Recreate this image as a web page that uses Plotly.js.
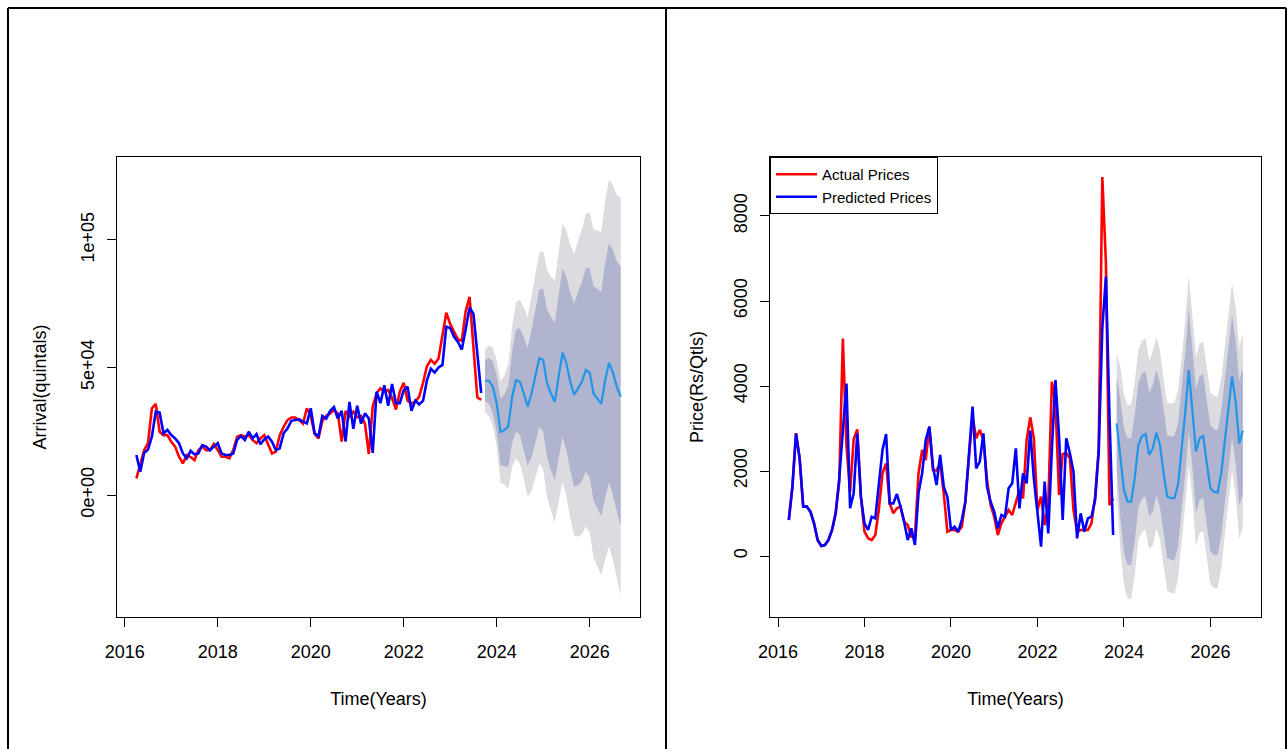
<!DOCTYPE html>
<html>
<head>
<meta charset="utf-8">
<script src="https://cdn.plot.ly/plotly-3.0.1.min.js"></script>
<style>
    html, body { margin: 0; padding: 0; background: #ffffff; }
    #chart { width: 1288px; height: 749px; }
</style>
</head>
<body>
<div id="chart"></div>
<script>
// ---- Arrivals (quintals), monthly series starting Apr 2016 ----
const arrivalStart = 2016.25;
const arrivalActual = [
    6500, 12500, 17600, 20300, 34000, 35700, 24800, 23500, 23500, 20900,
    19000, 15000, 12400, 15700, 14900, 13700, 17600, 19000, 17600, 17600,
    20000, 17600, 15000, 15000, 14400, 17600, 22900, 23500, 22900, 23500,
    21600, 20300, 22200, 23500, 19600, 16300, 17000, 23500, 26700, 29400,
    30400, 30400, 29400, 28000, 34000, 31000, 24000, 22200, 29000, 31000,
    32000, 33300, 32000, 21000, 33000, 30700, 32700, 30500, 31000, 28000,
    16100, 34600, 40000, 41800, 40500, 41200, 38000, 33500, 40500, 44000,
    37000, 35900, 36600, 38600, 44000, 50500, 53000, 51500, 53500, 63000,
    71500, 67000, 64000, 61000, 60500, 72000, 77700, 58000, 38300, 37300
];
const arrivalFitted = [
    15700, 9100, 16500, 17800, 22900, 32700, 32300, 24200, 25500, 23500,
    22200, 20300, 16300, 14400, 17300, 16000, 16300, 19600, 19000, 17600,
    19000, 20300, 16300, 15700, 15700, 16300, 21600, 23100, 21600, 24800,
    22200, 23900, 19900, 21800, 22900, 20900, 17600, 18300, 24200, 26100,
    29100, 29400, 29700, 28800, 28100, 34000, 24200, 23000, 31000, 30000,
    33000, 34500, 30000, 33000, 21000, 36500, 26000, 35000, 28000, 32000,
    30000, 16500, 40500, 36000, 43000, 35000, 43500, 36000, 36000, 41000,
    42500, 33000, 37000, 35500, 37000, 45000, 49500, 48000, 50000, 51000,
    66000, 65500, 62000, 60000, 57000, 65000, 73500, 71000, 55000, 40000
];
const arrivalFcStart = 2023.75;
const arrivalMean = [
    44800, 44800, 42500, 36000, 24800, 25500, 27000, 38500, 45000, 44400, 39800, 34600,
    39800, 46400, 53600, 52900, 43800, 39800, 36600, 46400, 55800, 51600, 44400, 39200,
    41800, 44400, 49000, 48000, 39800, 37900, 35700, 45000, 51800, 48000, 42500, 38600
];
const arrivalHi80 = [
    52800, 53800, 52500, 47000, 37800, 39500, 43000, 56500, 65000, 65400, 61800, 57600,
    64800, 72400, 80600, 80900, 72800, 69800, 67600, 78400, 88800, 85600, 79400, 75200,
    79800, 83400, 89000, 89000, 81800, 80900, 79700, 91000, 98800, 96000, 91500, 89600
];
const arrivalLo80 = [
    36800, 35800, 32500, 25000, 11800, 11500, 11000, 20500, 25000, 23400, 17800, 11600,
    14800, 20400, 26600, 24900, 14800, 9800, 5600, 14400, 22800, 17600, 9400, 3200,
    3800, 5400, 9000, 7000, -2200, -5100, -8300, -1000, 4800, 0, -6500, -12400
];
const arrivalHi95 = [
    57000, 58600, 57800, 52800, 44700, 46900, 51500, 66000, 75600, 76500, 73500, 69800,
    78100, 86200, 94900, 95700, 88200, 85700, 84000, 95400, 106300, 103600, 98000, 94300,
    99900, 104100, 110200, 110700, 104100, 103700, 103000, 115400, 123700, 121400, 117500, 116600
];
const arrivalLo95 = [
    32600, 31000, 27200, 19200, 4900, 4100, 2500, 11000, 14400, 12300, 6100, -600,
    1500, 6600, 12300, 10100, -600, -6100, -10800, -2600, 5300, -400, -9200, -15900,
    -16300, -15300, -12200, -14700, -24500, -27900, -31600, -25400, -20100, -25400, -32500, -39400
];

// ---- Prices (Rs/Qtls), monthly series starting Apr 2016 ----
const priceStart = 2016.25;
const priceActual = [
    847, 1631, 2886, 2298, 1161, 1161, 1043, 769, 376, 235,
    259, 376, 612, 1004, 1750, 5114, 2600, 1500, 2745, 2980,
    1396, 572, 420, 376, 494, 1100, 1950, 2180, 1239, 1004,
    1122, 1161, 808, 729, 455, 455, 1953, 2494, 2259, 3043,
    2023, 2008, 2180, 1475, 572, 612, 612, 573, 690, 1278,
    2337, 3278, 2769, 2965, 2729, 1788, 1200, 925, 494, 769,
    925, 1082, 965, 1239, 1553, 1357, 2729, 3263, 2769, 1082,
    1396, 729, 1200, 4102, 3592, 1435, 2400, 2420, 2300, 1082,
    572, 612, 612, 612, 769, 1396, 2500, 8918, 6900, 1200,
    1357
];
const priceFitted = [
    847, 1631, 2886, 2298, 1161, 1161, 1043, 769, 376, 235,
    259, 376, 612, 1004, 1827, 2900, 4059, 1122, 1475, 2886,
    1396, 769, 612, 925, 886, 1700, 2494, 2870, 1239, 1239,
    1458, 1161, 808, 376, 651, 259, 1486, 1945, 2729, 3043,
    2102, 1671, 2376, 1631, 1396, 612, 690, 573, 847, 1278,
    2337, 3514, 2063, 2220, 2886, 1631, 1278, 1043, 651, 965,
    925, 1592, 1710, 2533, 1122, 1945, 1710, 2949, 1827, 1082,
    220, 1749, 533, 2500, 4141, 2808, 847, 2769, 2416, 1984,
    416, 1004, 573, 886, 925, 1318, 2455, 5357, 6573, 3278,
    494
];
const priceFcStart = 2023.8333;
const priceMean = [
    3120, 2300, 1550, 1280, 1280, 1830, 2610, 2820, 2870, 2380, 2530, 2900,
    2610, 1950, 1400, 1360, 1360, 1670, 2450, 3360, 4380, 3510, 2460, 2770,
    2820, 2180, 1590, 1510, 1490, 1950, 2690, 3510, 4220, 3630, 2650, 2950
];
const priceHi80 = [
    4200, 3700, 3010, 2770, 2770, 3320, 4070, 4290, 4340, 3830, 4020, 4370,
    4070, 3390, 2850, 2810, 2830, 3120, 3880, 4770, 5830, 4930, 3910, 4230,
    4280, 3650, 3070, 2990, 2960, 3410, 4150, 4960, 5660, 5080, 4120, 4440
];
const priceLo80 = [
    2040, 900, 90, -210, -210, 340, 1150, 1350, 1400, 930, 1040, 1430,
    1150, 510, -50, -90, -110, 220, 1020, 1950, 2930, 2090, 1010, 1310,
    1360, 710, 110, 30, 20, 490, 1230, 2060, 2780, 2180, 1180, 1460
];
const priceHi95 = [
    4770, 4440, 3780, 3560, 3560, 4110, 4840, 5070, 5120, 4600, 4810, 5150,
    4840, 4150, 3620, 3580, 3610, 3890, 4640, 5520, 6600, 5680, 4680, 5000,
    5050, 4430, 3850, 3770, 3740, 4180, 4920, 5730, 6420, 5850, 4900, 5230
];
const priceLo95 = [
    1470, 160, -680, -1000, -1000, -450, 380, 570, 620, 160, 250, 650,
    380, -250, -820, -860, -890, -550, 260, 1200, 2160, 1340, 240, 540,
    590, -70, -670, -750, -760, -280, 460, 1290, 2020, 1410, 400, 670
];

const yearTicks = [2016, 2018, 2020, 2022, 2024, 2026];
const arrivalTicks = [0, 50000, 100000];
const arrivalTickText = ['0e+00', '5e+04', '1e+05'];
const priceTicks = [0, 2000, 4000, 6000, 8000];

// monthly time index, like a ts object
function monthly(start, n) {
    return Array.from({ length: n }, (_, i) => start + i / 12);
}

const FONT = 'Liberation Sans, Arial, sans-serif';
const W = 1288, H = 749;
const shade95 = '#dbdbe0';
const shade80 = '#b0b4cf';
const fcLine = '#1f96e8';

function panelTraces(xa, ya, start, actual, fitted, fcStart, mean, lo80, hi80, lo95, hi95, legend) {
    const xh = monthly(start, actual.length);
    const xf = monthly(fcStart, mean.length);
    const common = { xaxis: xa, yaxis: ya, type: 'scatter', mode: 'lines', hoverinfo: 'skip' };
    return [
        { ...common, x: xf, y: lo95, line: { width: 0 }, showlegend: false },
        { ...common, x: xf, y: hi95, line: { width: 0 }, fill: 'tonexty', fillcolor: shade95, showlegend: false },
        { ...common, x: xf, y: lo80, line: { width: 0 }, showlegend: false },
        { ...common, x: xf, y: hi80, line: { width: 0 }, fill: 'tonexty', fillcolor: shade80, showlegend: false },
        { ...common, x: xh, y: actual, name: 'Actual Prices', line: { color: '#ff0000', width: 2.6 }, showlegend: legend },
        { ...common, x: xh, y: fitted, name: 'Predicted Prices', line: { color: '#0000ff', width: 2.6 }, showlegend: legend },
        { ...common, x: xf, y: mean, line: { color: fcLine, width: 2.2 }, showlegend: false }
    ];
}

const data = [
    ...panelTraces('x', 'y', arrivalStart, arrivalActual, arrivalFitted, arrivalFcStart,
        arrivalMean, arrivalLo80, arrivalHi80, arrivalLo95, arrivalHi95, false),
    ...panelTraces('x2', 'y2', priceStart, priceActual, priceFitted, priceFcStart,
        priceMean, priceLo80, priceHi80, priceLo95, priceHi95, true)
];

const tickFont = { family: FONT, size: 18, color: '#000' };
const titleFont = { family: FONT, size: 18, color: '#000' };

const xBase = {
    showline: true, mirror: true, linecolor: '#000', linewidth: 1,
    ticks: 'outside', ticklen: 9, tickwidth: 1, tickcolor: '#000',
    showgrid: false, zeroline: false, automargin: false,
    tickvals: yearTicks, ticktext: yearTicks.map(String),
    tickfont: tickFont, ticklabelstandoff: 9,
    title: { text: 'Time(Years)', font: titleFont, standoff: 31 }
};
const yBase = {
    showline: true, mirror: true, linecolor: '#000', linewidth: 1,
    ticks: 'outside', ticklen: 9, tickwidth: 1, tickcolor: '#000',
    showgrid: false, zeroline: false, automargin: false,
    tickfont: tickFont, tickangle: -90, ticklabelstandoff: 6
};

const layout = {
    width: W, height: H,
    margin: { l: 0, r: 0, t: 0, b: 0 },
    paper_bgcolor: '#ffffff',
    plot_bgcolor: '#ffffff',
    font: { family: FONT, color: '#000' },
    xaxis: { ...xBase, domain: [117 / W, 640 / W], range: [2015.833, 2027.083], anchor: 'y' },
    yaxis: {
        ...yBase, domain: [1 - 617 / H, 1 - 157 / H], range: [-47800, 132500], anchor: 'x',
        tickvals: arrivalTicks, ticktext: arrivalTickText,
        title: { text: 'Arrival(quintals)', font: titleFont, standoff: 26 }
    },
    xaxis2: { ...xBase, domain: [770 / W, 1261 / W], range: [2015.815, 2027.17], anchor: 'y2' },
    yaxis2: {
        ...yBase, domain: [1 - 617 / H, 1 - 157 / H], range: [-1435, 9388], anchor: 'x2',
        tickvals: priceTicks, ticktext: priceTicks.map(String),
        title: { text: 'Price(Rs/Qtls)', font: titleFont, standoff: 22 }
    },
    showlegend: true,
    legend: {
        x: 770 / W, y: 1 - 157 / H, xanchor: 'left', yanchor: 'top',
        traceorder: 'normal',
        bgcolor: '#ffffff', bordercolor: '#000', borderwidth: 1,
        font: { family: FONT, size: 15, color: '#000' },
        itemwidth: 41, tracegroupgap: 0
    },
    shapes: [
        // outer frames of the two panels
        { type: 'line', xref: 'paper', yref: 'paper', x0: 8 / W, x1: 1286 / W, y0: 1 - 8 / H, y1: 1 - 8 / H, line: { color: '#000', width: 2 } },
        { type: 'line', xref: 'paper', yref: 'paper', x0: 8 / W, x1: 8 / W, y0: 0, y1: 1 - 8 / H, line: { color: '#000', width: 2 } },
        { type: 'line', xref: 'paper', yref: 'paper', x0: 666 / W, x1: 666 / W, y0: 0, y1: 1 - 8 / H, line: { color: '#000', width: 2 } },
        { type: 'line', xref: 'paper', yref: 'paper', x0: 1286 / W, x1: 1286 / W, y0: 0, y1: 1 - 8 / H, line: { color: '#000', width: 2 } }
    ]
};

Plotly.newPlot('chart', data, layout, { displayModeBar: false, staticPlot: true });
</script>
</body>
</html>
